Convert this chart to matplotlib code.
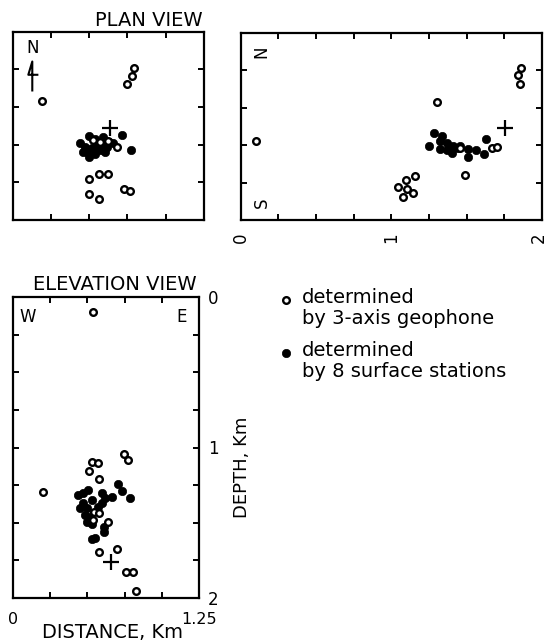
import matplotlib
matplotlib.use("Agg")
import matplotlib.pyplot as plt
import matplotlib.transforms as mtransforms
from matplotlib.lines import Line2D
import numpy as np

plt.rcParams['font.family'] = ['DejaVu Sans']

# ---------------- data (km) ----------------
# Plan view (x = east, y = north)
plan_open_x = [0.194, 0.747, 0.782, 0.793, 0.501, 0.564, 0.625, 0.501, 0.562,
               0.727, 0.767, 0.680, 0.525, 0.571, 0.623]
plan_open_y = [0.787, 0.902, 0.953, 1.009, 0.271, 0.304, 0.306, 0.173, 0.138,
               0.206, 0.193, 0.483, 0.532, 0.519, 0.525]
plan_fill_x = [0.716, 0.775, 0.440, 0.473, 0.501, 0.538, 0.592, 0.631, 0.653,
               0.488, 0.501, 0.538, 0.571, 0.603, 0.549, 0.582, 0.461, 0.516, 0.614]
plan_fill_y = [0.567, 0.465, 0.514, 0.487, 0.559, 0.537, 0.554, 0.521, 0.514,
               0.454, 0.421, 0.439, 0.465, 0.454, 0.487, 0.505, 0.454, 0.477, 0.487]
plan_cross = (0.634, 0.612)
north_arrow_x = [0.128, 0.128, 0.102, 0.161]
north_arrow_y = [0.860, 1.052, 0.964, 0.964]

# Rotated section view (distance 0-2 km)
sect_open_x = [0.100, 1.301, 1.861, 1.839, 1.854, 1.489, 1.666, 1.704, 1.456,
               1.047, 1.096, 1.157, 1.107, 1.076, 1.146]
sect_open_y = [0.530, 0.791, 1.014, 0.969, 0.909, 0.301, 0.479, 0.486, 0.483,
               0.219, 0.267, 0.296, 0.207, 0.152, 0.178]
sect_fill_x = [1.286, 1.252, 1.335, 1.324, 1.368, 1.412, 1.324, 1.368, 1.405,
               1.445, 1.511, 1.562, 1.511, 1.627, 1.618, 1.456, 1.390]
sect_fill_y = [0.580, 0.495, 0.561, 0.530, 0.513, 0.495, 0.473, 0.468, 0.450,
               0.479, 0.475, 0.468, 0.419, 0.539, 0.441, 0.495, 0.490]
sect_cross = (1.755, 0.613)

# Elevation view (distance, depth)
elev_open_x = [0.540, 0.201, 0.748, 0.774, 0.529, 0.569, 0.513, 0.580, 0.640,
               0.580, 0.697, 0.757, 0.808, 0.826, 0.545, 0.578, 0.540]
elev_open_d = [0.102, 1.294, 1.043, 1.083, 1.098, 1.105, 1.156, 1.211, 1.497,
               1.696, 1.676, 1.825, 1.829, 1.953, 1.427, 1.437, 1.482]
elev_fill_x = [0.707, 0.734, 0.786, 0.439, 0.473, 0.506, 0.596, 0.618, 0.663,
               0.473, 0.496, 0.484, 0.518, 0.596, 0.573, 0.496, 0.529, 0.614,
               0.614, 0.529, 0.551, 0.451, 0.531]
elev_fill_d = [1.243, 1.287, 1.338, 1.316, 1.304, 1.282, 1.304, 1.338, 1.331,
               1.371, 1.404, 1.449, 1.460, 1.371, 1.397, 1.493, 1.508, 1.526,
               1.563, 1.610, 1.599, 1.402, 1.349]
elev_cross = (0.658, 1.763)

legend_labels = [("determined", "by 3-axis geophone"),
                 ("determined", "by 8 surface stations")]

# ---------------- figure ----------------
W, H = 547, 642
fig = plt.figure(figsize=(W / 100, H / 100), dpi=100)

def fx(px):
    return px / W

def fy(py):
    return 1 - py / H

open_kw = dict(ls='none', marker='o', ms=4.8, mfc='white', mec='black', mew=1.7)
fill_kw = dict(ls='none', marker='o', ms=6.0, mfc='black', mec='black', mew=0.5)
cross_kw = dict(ls='none', marker='+', ms=11, mec='black', mew=1.6)

def style(ax):
    for s in ax.spines.values():
        s.set_linewidth(1.6)
    ax.tick_params(direction='in', length=4, width=1.4, top=True, right=True,
                   left=True, bottom=True, labelsize=12, pad=6)

# Plan view
ax1 = fig.add_axes([fx(12.7), fy(220), fx(191.3), 188.3 / H])
ax1.set_xlim(0, 1.25)
ax1.set_ylim(0, 1.25)
ax1.set_xticks(np.arange(0, 1.26, 0.25))
ax1.set_yticks(np.arange(0, 1.26, 0.25))
ax1.set_xticklabels([])
ax1.set_yticklabels([])
style(ax1)
ax1.plot(plan_fill_x, plan_fill_y, **fill_kw)
ax1.plot(plan_open_x, plan_open_y, **open_kw)
ax1.plot(*plan_cross, **cross_kw)
ax1.plot(north_arrow_x, north_arrow_y, color='black', lw=1.5)
ax1.text(0.131, 1.144, "N", ha='center', va='center', fontsize=12)
fig.text(fx(203), fy(20), "PLAN VIEW", ha='right', va='center', fontsize=14)

# Rotated section view
ax2 = fig.add_axes([fx(240.7), fy(220), fx(301.3), 187 / H])
ax2.set_xlim(0, 2)
ax2.set_ylim(0, 1.25)
ax2.set_xticks(np.arange(0, 2.01, 0.25))
ax2.set_xticklabels(["0", "", "", "", "1", "", "", "", "2"], rotation=90)
ax2.set_yticks(np.arange(0, 1.26, 0.25))
ax2.set_yticklabels([])
style(ax2)
ax2.tick_params(axis='x', pad=9)
last = ax2.get_xticklabels()[-1]
last.set_transform(last.get_transform() +
                   mtransforms.ScaledTranslation(-3 / 100, 0, fig.dpi_scale_trans))
ax2.plot(sect_fill_x, sect_fill_y, **fill_kw)
ax2.plot(sect_open_x, sect_open_y, **open_kw)
ax2.plot(*sect_cross, **cross_kw)
ax2.text(0.139, 1.125, "N", ha='center', va='center', fontsize=12, rotation=90)
ax2.text(0.139, 0.116, "S", ha='center', va='center', fontsize=12, rotation=90)

# Elevation view
ax3 = fig.add_axes([fx(12.7), fy(598), fx(186.6), 301 / H])
ax3.set_xlim(0, 1.25)
ax3.set_ylim(2, 0)
ax3.set_xticks(np.arange(0, 1.26, 0.25))
ax3.set_xticklabels(["0", "", "", "", "", "1.25"])
ax3.set_yticks(np.arange(0, 2.01, 0.25))
ax3.set_yticklabels(["0", "", "", "", "1", "", "", "", "2"])
style(ax3)
ax3.tick_params(axis='x', pad=10, labelsize=11.5)
ax3.tick_params(labelleft=False, labelright=True)
ax3.yaxis.set_label_position('right')
ax3.set_ylabel("DEPTH, Km", fontsize=13)
ax3.yaxis.set_label_coords(1.178, 0.435)
ax3.set_xlabel("DISTANCE, Km", fontsize=14)
ax3.xaxis.set_label_coords(0.537, -0.083)
ax3.plot(elev_fill_x, elev_fill_d, **fill_kw)
ax3.plot(elev_open_x, elev_open_d, **open_kw)
ax3.plot(*elev_cross, **cross_kw)
ax3.text(0.103, 0.131, "W", ha='center', va='center', fontsize=12)
ax3.text(1.132, 0.131, "E", ha='center', va='center', fontsize=12)
fig.text(fx(115), fy(284), "ELEVATION VIEW", ha='center', va='center', fontsize=14)

# Legend
leg_y = [(298, 319), (351, 372)]
leg_kw = [open_kw, fill_kw]
for (l1, l2), (y1, y2), kw in zip(legend_labels, leg_y, leg_kw):
    fig.add_artist(Line2D([fx(286)], [fy(y1 + 2)], transform=fig.transFigure, **kw))
    fig.text(fx(302), fy(y1), l1, ha='left', va='center', fontsize=14)
    fig.text(fx(302), fy(y2), l2, ha='left', va='center', fontsize=14)

fig.savefig("out.png", dpi=100)
